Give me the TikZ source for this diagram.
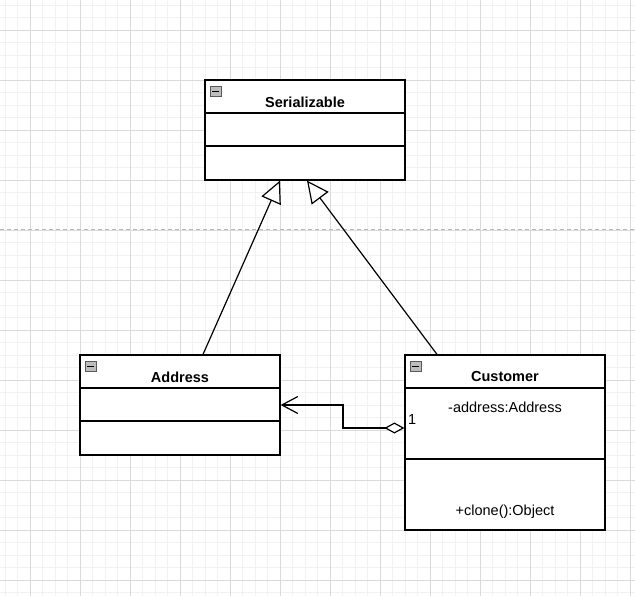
\documentclass[tikz,border=0pt]{standalone}
\usepackage{fontspec}
\setmainfont{Liberation Sans}
\usetikzlibrary{arrows.meta}
\definecolor{gridminor}{HTML}{F2F2F2}
\definecolor{gridmajor}{HTML}{DADADA}
\definecolor{guide}{HTML}{B8B8B8}
\definecolor{iconfill}{HTML}{BDBDBD}
\tikzset{
  classbox/.style={draw=black, line width=1.2pt, fill=white, minimum width=200pt, inner sep=0pt},
  compline/.style={draw=black, line width=1.2pt},
  titletext/.style={font=\fontsize{14.5}{17}\selectfont\bfseries, inner sep=0pt},
  membertext/.style={font=\fontsize{14.5}{17}\selectfont, inner sep=0pt},
  inherit/.style={draw=black, line width=1.2pt, -{Triangle[open, length=22pt, width=21pt, fill=white]}},
  aggregate/.style={draw=black, line width=1.2pt,
    {Diamond[open, length=20pt, width=11pt, fill=white]}-{Straight Barb[length=16pt, width=17pt]}},
}
% small collapse icon in the top left corner of a class box
\newcommand\umlicon[1]{%
  \draw[draw=gray!70!black, fill=iconfill, line width=0.6pt]
    ([xshift=6pt, yshift=-7pt]#1.north west) rectangle ++(11,10);
  \draw[line width=1.2pt] ([xshift=8pt, yshift=-12pt]#1.north west) -- ++(7,0);
}
\begin{document}
\begin{tikzpicture}[x=1pt, y=-1pt]
\useasboundingbox (0,0) rectangle (635,596);
\fill[white] (0,0) rectangle (635,596);
% background grid
\foreach \g in {5,17.5,...,635} {
  \draw[gridminor, line width=0.8pt] (\g,0) -- (\g,596);
}
\foreach \g in {5,17.5,...,596} {
  \draw[gridminor, line width=0.8pt] (0,\g) -- (635,\g);
}
\foreach \g in {30,80,...,635} {
  \draw[gridmajor, line width=0.8pt] (\g,0) -- (\g,596);
}
\foreach \g in {30,80,...,596} {
  \draw[gridmajor, line width=0.8pt] (0,\g) -- (635,\g);
}
% page guide
\draw[guide, line width=1pt, dash pattern=on 4pt off 3pt] (0,230) -- (635,230);

% Serializable
\node[classbox, minimum height=100pt] (ser) at (305,130) {};
\draw[compline] (ser.west |- 0,113) -- (ser.east |- 0,113);
\draw[compline] (ser.west |- 0,146) -- (ser.east |- 0,146);
\umlicon{ser}
\node[titletext] (sertitle) at (305,102) {Serializable};

% Address
\node[classbox, minimum height=100pt] (addr) at (180,405) {};
\draw[compline] (addr.west |- 0,388) -- (addr.east |- 0,388);
\draw[compline] (addr.west |- 0,421) -- (addr.east |- 0,421);
\umlicon{addr}
\node[titletext] (addrtitle) at (180,377) {Address};

% Customer
\node[classbox, minimum height=175pt] (cust) at (505,442.5) {};
\draw[compline] (cust.west |- 0,388) -- (cust.east |- 0,388);
\draw[compline] (cust.west |- 0,459) -- (cust.east |- 0,459);
\umlicon{cust}
\node[titletext] (custtitle) at (505,377) {Customer};
\node[membertext] (custattr) at (505,407) {-address:Address};
\node[membertext] (custop) at (505,512) {+clone():Object};

% generalizations
\draw[inherit] (addr.north -| 203,0) -- (ser.south -| 280,0);
\draw[inherit] (cust.north -| 437,0) -- (ser.south -| 307,0);

% aggregation Customer -> Address
\draw[aggregate] (cust.west |- 0,428) -- (343,428) |- (addr.east);
\node[membertext, anchor=west] (mult) at (408,420) {1};
\end{tikzpicture}
\end{document}
